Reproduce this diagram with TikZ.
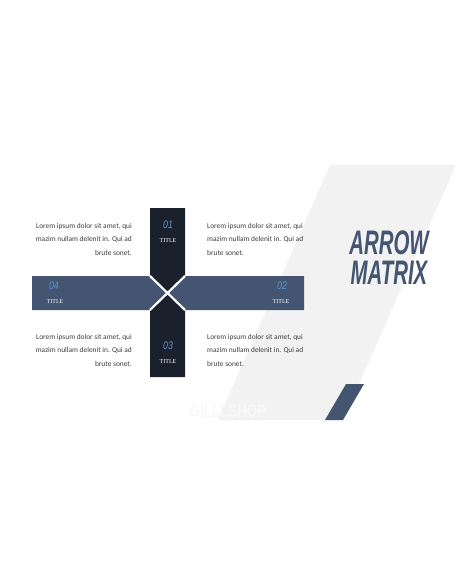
\documentclass[tikz,border=0pt]{standalone}
\usepackage{fontspec}
\setmainfont{Carlito}
\newfontfamily\headfont{Liberation Sans}
\newfontfamily\labelfont{Liberation Serif}
\usetikzlibrary{calc}
\definecolor{mydark}{HTML}{1B212C}
\definecolor{myslate}{HTML}{435571}
\definecolor{mylight}{HTML}{5B93D3}
\definecolor{mygray}{HTML}{F2F2F2}
\definecolor{mytext}{HTML}{3C3C3C}
\definecolor{mymark}{HTML}{F8F8F8}
\tikzset{
  num/.style={inner sep=0pt,text=mylight,xscale=0.8,
    font=\headfont\itshape\fontsize{11}{11}\selectfont},
  tag/.style={inner sep=0pt,text=white,
    font=\labelfont\fontsize{6}{6}\selectfont},
  lorem/.style={inner sep=0pt,text=mytext,
    font=\fontsize{7.4}{13.5}\selectfont},
}

\begin{document}
\begin{tikzpicture}[x=1pt,y=-1pt]
  \useasboundingbox (0,0) rectangle (456,586);

  % BACKGROUND
  \fill[mygray] (330,165) -- (456,165) -- (343,420) -- (218,420) -- cycle;
  \fill[myslate] (346,384) -- (364,384) -- (343,420) -- (325,420) -- cycle;
  \node[inner sep=0pt,text=mymark,xscale=0.74,
    font=\headfont\bfseries\fontsize{18}{18}\selectfont] (mark) at (228,411) {GILLLSHOP};

  % CROSS
  \coordinate (C) at (167.5,293);
  \coordinate (NW) at (150,276);
  \coordinate (NE) at (185,276);
  \coordinate (SW) at (150,310);
  \coordinate (SE) at (185,310);
  \fill[mydark] (150,208) -- (185,208) -- (NE) -- (C) -- (NW) -- cycle;
  \fill[mydark] (150,377) -- (185,377) -- (SE) -- (C) -- (SW) -- cycle;
  \fill[myslate] (32,276) -- (NW) -- (C) -- (SW) -- (32,310) -- cycle;
  \fill[myslate] (304,276) -- (NE) -- (C) -- (SE) -- (304,310) -- cycle;
  \draw[white,line width=2.2pt] (NW) -- (SE);
  \draw[white,line width=2.2pt] (NE) -- (SW);

  % LABELS
  \node[num] (n1) at (168,225) {01};
  \node[tag] (t1) at (168,241) {TITLE};
  \node[num] (n2) at (282,286) {02};
  \node[tag] (t2) at (281,302) {TITLE};
  \node[num] (n3) at (168,346) {03};
  \node[tag] (t3) at (168,362) {TITLE};
  \node[num] (n4) at (54,286) {04};
  \node[tag] (t4) at (55,302) {TITLE};

  % TEXT
  \node[lorem,anchor=east,align=right] (tl) at (132,239)
    {Lorem ipsum dolor sit amet, qui\\mazim nullam delenit in. Qui ad\\brute sonet.};
  \node[lorem,anchor=west,align=left] (tr) at (207,239)
    {Lorem ipsum dolor sit amet, qui\\mazim nullam delenit in. Qui ad\\brute sonet.};
  \node[lorem,anchor=east,align=right] (bl) at (132,350)
    {Lorem ipsum dolor sit amet, qui\\mazim nullam delenit in. Qui ad\\brute sonet.};
  \node[lorem,anchor=west,align=left] (br) at (207,350)
    {Lorem ipsum dolor sit amet, qui\\mazim nullam delenit in. Qui ad\\brute sonet.};

  % HEADLINE
  \node[inner sep=0pt,text=myslate,xscale=0.6,align=center,
    font=\headfont\bfseries\itshape\fontsize{34}{30}\selectfont] (head) at (389,258)
    {ARROW\\MATRIX};
\end{tikzpicture}
\end{document}
